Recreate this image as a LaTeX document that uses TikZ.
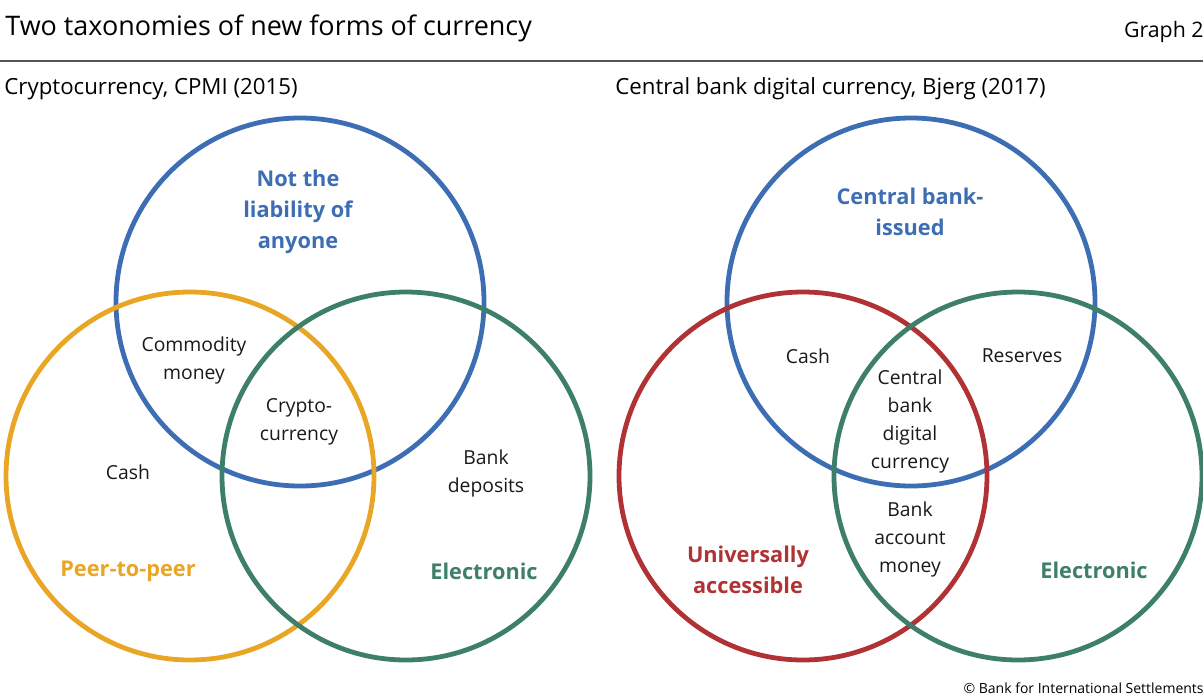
\documentclass[tikz,border=0pt]{standalone}
\usepackage{fontspec}
\setmainfont{Open Sans}
\definecolor{bisblue}{RGB}{61,110,180}
\definecolor{bisorange}{RGB}{232,166,36}
\definecolor{bisgreen}{RGB}{61,127,104}
\definecolor{bisred}{RGB}{176,50,52}
\definecolor{rulegray}{RGB}{85,85,85}

\begin{document}
\begin{tikzpicture}[x=0.75pt, y=-0.75pt, line width=3.6pt,
  lbl/.style={align=center, inner sep=0pt, text=black!90, font=\fontsize{14.5}{21}\selectfont},
  head/.style={align=center, inner sep=0pt, font=\bfseries\fontsize{16.3}{23}\selectfont}]
  \useasboundingbox (0,0) rectangle (1203,697);

  % titles
  \node[anchor=west, inner sep=0pt, font=\fontsize{20.2}{24}\selectfont] (title) at (3,28) {Two taxonomies of new forms of currency};
  \node[anchor=east, inner sep=0pt, font=\fontsize{16}{19}\selectfont] (graph) at (1206,32) {Graph 2};
  \draw[rulegray, line width=1.5pt] (0,61) -- (1203,61);
  \node[anchor=west, inner sep=0pt, font=\fontsize{16.7}{19}\selectfont] (subl) at (2,89) {Cryptocurrency, CPMI (2015)};
  \node[anchor=west, inner sep=0pt, font=\fontsize{16.7}{19}\selectfont] (subr) at (613,89) {Central bank digital currency, Bjerg (2017)};
  \node[anchor=east, inner sep=0pt, font=\fontsize{10.5}{12}\selectfont] (bis) at (1206,688) {© Bank for International Settlements};

  % left diagram
  \coordinate (LB) at (300,302);
  \coordinate (LO) at (190,476);
  \coordinate (LG) at (406,476);

  \draw[bisblue] (LB) circle[radius=138pt];
  \draw[bisorange] (LO) circle[radius=138pt];
  \draw[bisgreen] (LG) circle[radius=138pt];

  \node[head, text=bisblue] (notliab) at (298,212) {Not the\\liability of\\anyone};
  \node[lbl] (commod) at (194,360) {Commodity\\money};
  \node[lbl] (crypto) at (299,422) {Crypto-\\currency};
  \node[lbl] (cashl) at (128,472) {Cash};
  \node[lbl] (deposits) at (486,473) {Bank\\deposits};
  \node[head, text=bisorange] (p2p) at (128,571) {Peer-to-peer};
  \node[head, text=bisgreen] (elecl) at (484,571) {Electronic};

  % right diagram
  \coordinate (RB) at (911,302);
  \coordinate (RR) at (803,476);
  \coordinate (RG) at (1018,476);

  \draw[bisblue] (RB) circle[radius=138pt];
  \draw[bisred] (RR) circle[radius=138pt];
  \draw[bisgreen] (RG) circle[radius=138pt];

  \node[head, text=bisblue] (cbissued) at (910,212) {Central bank-\\issued};
  \node[lbl] (cashr) at (808,356) {Cash};
  \node[lbl] (reserves) at (1022,356) {Reserves};
  \node[lbl] (cbdc) at (910,421) {Central\\bank\\digital\\currency};
  \node[lbl] (bankacc) at (910,539) {Bank\\account\\money};
  \node[head, text=bisred] (univ) at (748,570) {Universally\\accessible};
  \node[head, text=bisgreen] (elecr) at (1094,570) {Electronic};
\end{tikzpicture}
\end{document}
